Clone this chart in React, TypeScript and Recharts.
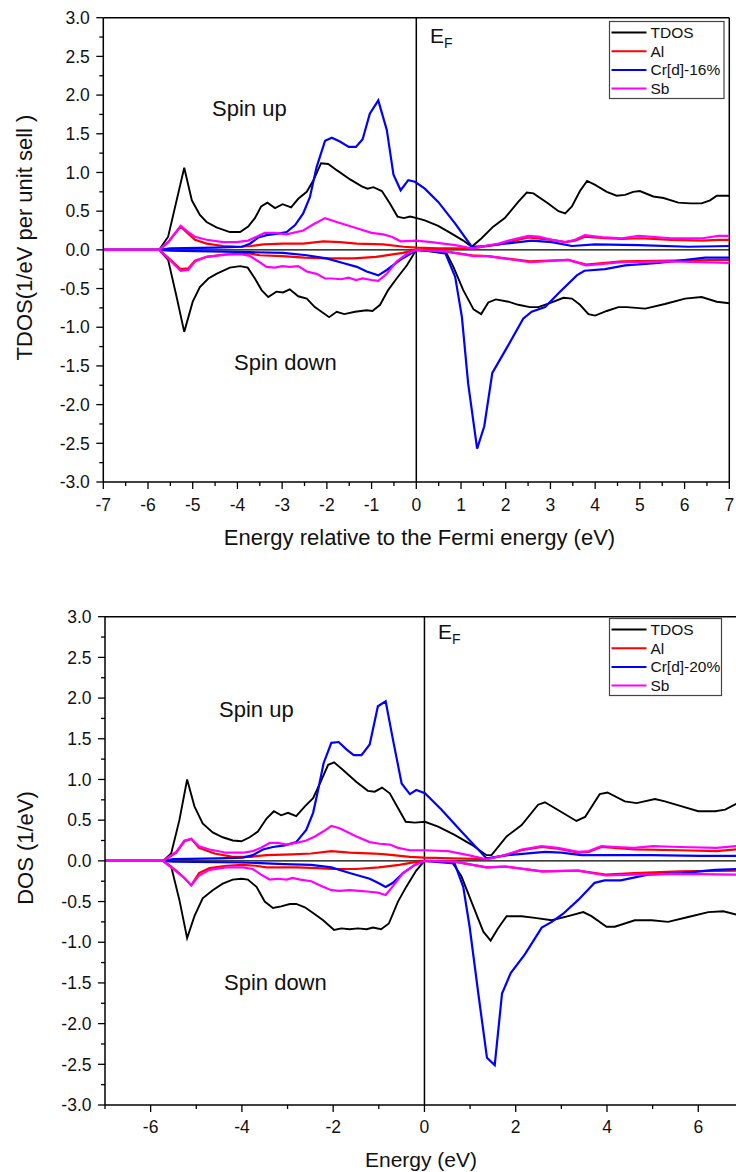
import React from 'react';
import { LineChart, Line, XAxis, YAxis, ReferenceLine } from 'recharts';

type P = [number, number][];

// ---------- axis ticks ----------
const topEnergyMajor = [-7, -6, -5, -4, -3, -2, -1, 0, 1, 2, 3, 4, 5, 6, 7];
const topEnergyMinor = [-6.5, -5.5, -4.5, -3.5, -2.5, -1.5, -0.5, 0.5, 1.5, 2.5, 3.5, 4.5, 5.5, 6.5];
const botEnergyMajor = [-6, -4, -2, 0, 2, 4, 6];
const botEnergyMinor = [-7, -5, -3, -1, 1, 3, 5, 7];
const dosMajor = [-3, -2.5, -2, -1.5, -1, -0.5, 0, 0.5, 1, 1.5, 2, 2.5, 3];
const dosMinor = [-2.75, -2.25, -1.75, -1.25, -0.75, -0.25, 0.25, 0.75, 1.25, 1.75, 2.25, 2.75];

// ---------- legend ----------
const topNames = ['TDOS', 'Al', 'Cr[d]-16%', 'Sb'];
const botNames = ['TDOS', 'Al', 'Cr[d]-20%', 'Sb'];
const colors = ['#000000', '#ff0000', '#0000ff', '#ff00ff'];

// ---------- top panel (Cr 16%) : [energy eV, DOS] ----------
const topTdosUp: P = [[-7,0],[-5.75,0],[-5.55,0.17],[-5.19,1.06],[-5.02,0.64],[-4.84,0.45],[-4.69,0.36],[-4.47,0.29],[-4.17,0.23],[-3.94,0.23],[-3.76,0.30],[-3.61,0.41],[-3.47,0.56],[-3.33,0.61],[-3.16,0.54],[-2.99,0.59],[-2.80,0.55],[-2.64,0.66],[-2.45,0.75],[-2.30,0.90],[-2.13,1.12],[-1.97,1.11],[-1.78,1.03],[-1.48,0.91],[-1.22,0.82],[-1.09,0.79],[-0.96,0.81],[-0.77,0.76],[-0.59,0.60],[-0.42,0.43],[-0.28,0.41],[-0.14,0.43],[0.01,0.41],[0.19,0.38],[0.49,0.31],[0.79,0.21],[1.05,0.12],[1.24,0.04],[1.46,0.15],[1.72,0.30],[1.98,0.41],[2.28,0.62],[2.47,0.74],[2.62,0.73],[2.95,0.60],[3.18,0.50],[3.33,0.47],[3.48,0.56],[3.66,0.76],[3.82,0.89],[4.00,0.84],[4.26,0.75],[4.48,0.70],[4.67,0.71],[4.85,0.75],[5.00,0.76],[5.30,0.69],[5.53,0.67],[5.86,0.61],[6.12,0.60],[6.38,0.60],[6.57,0.64],[6.72,0.70],[7.0,0.70]];
const topTdosDn: P = [[-7,0],[-5.75,0],[-5.55,-0.13],[-5.36,-0.61],[-5.19,-1.06],[-5.00,-0.67],[-4.84,-0.48],[-4.65,-0.37],[-4.47,-0.31],[-4.17,-0.23],[-3.94,-0.21],[-3.77,-0.23],[-3.61,-0.37],[-3.46,-0.52],[-3.31,-0.61],[-3.13,-0.54],[-2.98,-0.55],[-2.83,-0.51],[-2.64,-0.60],[-2.45,-0.63],[-2.27,-0.74],[-2.12,-0.80],[-1.95,-0.87],[-1.78,-0.80],[-1.61,-0.83],[-1.37,-0.80],[-1.11,-0.78],[-0.98,-0.79],[-0.81,-0.71],[-0.63,-0.52],[-0.44,-0.37],[-0.21,-0.20],[0,0],[0.3,-0.02],[0.68,-0.05],[0.83,-0.22],[1.05,-0.52],[1.28,-0.77],[1.45,-0.83],[1.61,-0.68],[1.78,-0.64],[2.06,-0.67],[2.28,-0.71],[2.54,-0.74],[2.73,-0.74],[3.03,-0.68],[3.29,-0.62],[3.48,-0.63],[3.66,-0.71],[3.85,-0.83],[4.00,-0.85],[4.26,-0.79],[4.52,-0.74],[4.71,-0.74],[5.12,-0.76],[5.56,-0.70],[6.01,-0.63],[6.38,-0.61],[6.72,-0.67],[7.0,-0.69]];
const topAlUp: P = [[-7,0],[-5.75,0],[-5.55,0.10],[-5.27,0.30],[-5.10,0.21],[-4.95,0.13],[-4.69,0.08],[-4.32,0.05],[-3.94,0.04],[-3.7,0.05],[-3.42,0.07],[-2.98,0.08],[-2.53,0.08],[-2.08,0.11],[-1.71,0.10],[-1.33,0.08],[-0.74,0.07],[-0.28,0.04],[0.0,0.03],[0.5,0.02],[1.24,0.02],[1.84,0.07],[2.51,0.16],[3.03,0.13],[3.33,0.10],[3.55,0.12],[3.77,0.17],[4.22,0.15],[4.60,0.14],[5.0,0.15],[5.71,0.13],[6.4,0.12],[6.76,0.13],[7.0,0.13]];
const topAlDn: P = [[-7,0],[-5.75,0],[-5.55,-0.10],[-5.27,-0.25],[-5.10,-0.24],[-4.95,-0.14],[-4.69,-0.09],[-4.3,-0.06],[-3.9,-0.05],[-3.7,-0.05],[-3.5,-0.07],[-3.0,-0.08],[-2.5,-0.10],[-2.0,-0.11],[-1.4,-0.11],[-0.9,-0.09],[-0.3,-0.04],[0,0],[0.64,-0.02],[1.24,-0.07],[1.6,-0.08],[2.54,-0.15],[3.4,-0.13],[3.8,-0.19],[4.6,-0.15],[5.7,-0.14],[7.0,-0.13]];
const topCrUp: P = [[-7,0],[-5.75,0],[-5.5,0.02],[-4.5,0.03],[-3.9,0.04],[-3.72,0.08],[-3.53,0.16],[-3.35,0.19],[-3.09,0.21],[-2.90,0.23],[-2.71,0.32],[-2.53,0.47],[-2.38,0.68],[-2.23,1.07],[-2.04,1.41],[-1.89,1.45],[-1.71,1.40],[-1.51,1.33],[-1.35,1.33],[-1.20,1.43],[-1.04,1.76],[-0.85,1.93],[-0.66,1.55],[-0.51,0.97],[-0.35,0.77],[-0.18,0.90],[-0.03,0.88],[0.19,0.79],[0.49,0.62],[0.87,0.34],[1.24,0.04],[1.54,0.05],[1.98,0.08],[2.58,0.12],[3.03,0.10],[3.48,0.05],[4.00,0.07],[4.97,0.06],[6.09,0.04],[7.0,0.05]];
const topCrDn: P = [[-7,0],[-5.75,0],[-5.5,-0.01],[-3.72,-0.03],[-2.98,-0.04],[-2.45,-0.07],[-2.01,-0.11],[-1.64,-0.17],[-1.33,-0.22],[-1.11,-0.28],[-0.85,-0.33],[-0.66,-0.26],[-0.36,-0.13],[-0.07,-0.03],[0,0],[0.64,-0.03],[0.87,-0.35],[1.02,-0.87],[1.16,-1.73],[1.36,-2.57],[1.52,-2.28],[1.70,-1.59],[2.02,-1.27],[2.39,-0.89],[2.58,-0.80],[2.88,-0.74],[3.18,-0.56],[3.59,-0.33],[3.76,-0.27],[4.22,-0.25],[4.67,-0.20],[5.41,-0.17],[6.46,-0.10],[7.0,-0.10]];
const topSbUp: P = [[-7,0],[-5.75,0],[-5.55,0.10],[-5.27,0.31],[-5.10,0.23],[-4.95,0.17],[-4.69,0.13],[-4.32,0.10],[-4.02,0.10],[-3.76,0.12],[-3.57,0.17],[-3.39,0.22],[-3.16,0.22],[-2.90,0.20],[-2.53,0.25],[-2.30,0.33],[-2.04,0.41],[-1.78,0.36],[-1.33,0.28],[-1.00,0.22],[-0.74,0.20],[-0.55,0.17],[-0.35,0.11],[0.0,0.12],[0.34,0.10],[0.87,0.06],[1.24,0.02],[1.84,0.08],[2.13,0.13],[2.51,0.18],[2.73,0.17],[3.03,0.13],[3.33,0.10],[3.55,0.13],[3.77,0.19],[4.22,0.16],[4.60,0.15],[4.97,0.18],[5.71,0.15],[6.4,0.15],[6.76,0.18],[7.0,0.18]];
const topSbDn: P = [[-7,0],[-5.75,0],[-5.55,-0.11],[-5.27,-0.27],[-5.10,-0.26],[-4.95,-0.15],[-4.69,-0.09],[-4.2,-0.06],[-3.9,-0.06],[-3.72,-0.08],[-3.53,-0.15],[-3.35,-0.22],[-3.16,-0.23],[-3.0,-0.21],[-2.83,-0.22],[-2.64,-0.21],[-2.45,-0.28],[-2.23,-0.31],[-2.04,-0.37],[-1.89,-0.37],[-1.68,-0.38],[-1.51,-0.36],[-1.35,-0.39],[-1.2,-0.37],[-1.0,-0.39],[-0.85,-0.40],[-0.66,-0.31],[-0.44,-0.15],[-0.21,-0.05],[0,0],[0.64,-0.02],[1.28,-0.08],[1.6,-0.08],[2.54,-0.16],[3.4,-0.13],[3.8,-0.20],[4.6,-0.16],[5.7,-0.15],[7.0,-0.17]];

// ---------- bottom panel (Cr 20%) ----------
const botTdosUp: P = [[-7,0],[-5.73,0],[-5.55,0.09],[-5.37,0.50],[-5.20,1.00],[-5.04,0.67],[-4.86,0.46],[-4.64,0.35],[-4.42,0.29],[-4.20,0.25],[-4.01,0.24],[-3.83,0.29],[-3.65,0.36],[-3.46,0.52],[-3.30,0.61],[-3.14,0.56],[-2.99,0.59],[-2.81,0.55],[-2.62,0.67],[-2.44,0.77],[-2.26,0.99],[-2.11,1.18],[-1.98,1.21],[-1.79,1.12],[-1.49,0.97],[-1.24,0.86],[-1.09,0.85],[-0.93,0.90],[-0.76,0.83],[-0.58,0.65],[-0.41,0.48],[-0.21,0.47],[0.01,0.48],[0.30,0.42],[0.66,0.32],[1.03,0.20],[1.36,0.07],[1.47,0.07],[1.80,0.30],[2.13,0.44],[2.49,0.69],[2.64,0.72],[3.00,0.60],[3.33,0.49],[3.52,0.54],[3.84,0.82],[4.01,0.84],[4.39,0.73],[4.65,0.71],[5.05,0.76],[5.27,0.73],[5.64,0.67],[6.00,0.61],[6.37,0.61],[6.59,0.63],[6.83,0.70],[7.0,0.73]];
const botTdosDn: P = [[-7,0],[-5.73,0],[-5.55,-0.07],[-5.37,-0.48],[-5.20,-0.95],[-5.04,-0.68],[-4.86,-0.46],[-4.64,-0.36],[-4.42,-0.28],[-4.20,-0.23],[-4.01,-0.22],[-3.87,-0.23],[-3.68,-0.32],[-3.50,-0.50],[-3.32,-0.58],[-3.14,-0.56],[-2.95,-0.53],[-2.81,-0.53],[-2.62,-0.57],[-2.44,-0.64],[-2.22,-0.73],[-1.98,-0.85],[-1.82,-0.83],[-1.64,-0.84],[-1.46,-0.83],[-1.27,-0.84],[-1.13,-0.82],[-0.95,-0.84],[-0.78,-0.77],[-0.58,-0.50],[-0.40,-0.32],[-0.18,-0.12],[0,0],[0.60,-0.01],[0.81,-0.19],[1.07,-0.56],[1.29,-0.87],[1.45,-0.98],[1.61,-0.83],[1.80,-0.68],[2.13,-0.68],[2.42,-0.70],[2.79,-0.73],[3.15,-0.68],[3.48,-0.63],[3.66,-0.68],[3.99,-0.81],[4.17,-0.81],[4.61,-0.73],[4.98,-0.73],[5.34,-0.75],[5.78,-0.69],[6.22,-0.63],[6.55,-0.62],[6.83,-0.66],[7.0,-0.68]];
const botAlUp: P = [[-7,0],[-5.73,0],[-5.44,0.10],[-5.26,0.24],[-5.11,0.27],[-4.94,0.16],[-4.6,0.09],[-4.2,0.05],[-3.8,0.05],[-3.46,0.07],[-2.9,0.08],[-2.48,0.09],[-2.04,0.12],[-1.64,0.10],[-1.1,0.09],[-0.85,0.08],[-0.32,0.05],[0,0.04],[0.6,0.03],[1.36,0.02],[1.77,0.07],[2.13,0.13],[2.57,0.17],[2.92,0.15],[3.37,0.10],[3.6,0.11],[3.88,0.17],[4.6,0.14],[5.6,0.13],[6.4,0.12],[6.83,0.14],[7.0,0.14]];
const botAlDn: P = [[-7,0],[-5.73,0],[-5.44,-0.12],[-5.26,-0.21],[-5.11,-0.30],[-4.94,-0.15],[-4.71,-0.09],[-4.34,-0.06],[-3.98,-0.05],[-3.7,-0.06],[-3.46,-0.08],[-2.8,-0.08],[-2.35,-0.09],[-2.04,-0.10],[-1.5,-0.10],[-1.0,-0.08],[-0.55,-0.05],[-0.15,-0.01],[0,0],[0.66,-0.01],[1.36,-0.08],[1.77,-0.07],[2.57,-0.13],[3.37,-0.12],[3.97,-0.17],[4.6,-0.15],[5.6,-0.13],[7.0,-0.12]];
const botCrUp: P = [[-7,0],[-5.73,0],[-5.5,0.02],[-4.5,0.03],[-3.98,0.04],[-3.76,0.07],[-3.54,0.14],[-3.32,0.17],[-3.06,0.19],[-2.81,0.23],[-2.59,0.38],[-2.44,0.59],[-2.33,0.87],[-2.21,1.20],[-2.04,1.45],[-1.88,1.46],[-1.71,1.37],[-1.55,1.30],[-1.38,1.30],[-1.20,1.43],[-1.02,1.90],[-0.85,1.96],[-0.69,1.49],[-0.50,0.95],[-0.32,0.82],[-0.18,0.87],[0.01,0.83],[0.37,0.63],[0.81,0.36],[1.36,0.03],[1.83,0.07],[2.64,0.11],[3.00,0.10],[3.44,0.07],[3.97,0.07],[4.98,0.07],[6.05,0.06],[7.0,0.06]];
const botCrDn: P = [[-7,0],[-5.73,0],[-5.5,-0.01],[-4.0,-0.02],[-3.07,-0.04],[-2.48,-0.05],[-2.04,-0.08],[-1.64,-0.15],[-1.20,-0.22],[-1.02,-0.27],[-0.85,-0.32],[-0.69,-0.27],[-0.47,-0.15],[-0.21,-0.05],[0,0],[0.66,-0.03],[0.85,-0.32],[0.99,-0.81],[1.18,-1.63],[1.37,-2.42],[1.54,-2.51],[1.70,-1.63],[1.89,-1.38],[2.20,-1.15],[2.57,-0.82],[2.79,-0.75],[3.04,-0.65],[3.37,-0.48],[3.73,-0.27],[3.95,-0.24],[4.3,-0.24],[4.90,-0.17],[5.64,-0.15],[6.37,-0.11],[7.0,-0.10]];
const botSbUp: P = [[-7,0],[-5.73,0],[-5.44,0.11],[-5.26,0.25],[-5.11,0.27],[-4.94,0.18],[-4.71,0.14],[-4.34,0.10],[-3.98,0.10],[-3.76,0.12],[-3.58,0.16],[-3.39,0.22],[-3.21,0.22],[-3.02,0.20],[-2.81,0.22],[-2.59,0.25],[-2.40,0.30],[-2.22,0.36],[-2.04,0.43],[-1.86,0.40],[-1.49,0.30],[-1.20,0.23],[-0.98,0.21],[-0.76,0.20],[-0.58,0.16],[-0.32,0.13],[0.01,0.13],[0.52,0.12],[0.96,0.07],[1.36,0.02],[1.77,0.07],[2.13,0.14],[2.57,0.18],[2.92,0.16],[3.37,0.11],[3.6,0.12],[3.88,0.18],[4.2,0.17],[4.6,0.16],[5.0,0.18],[5.6,0.17],[6.4,0.16],[6.83,0.18],[7.0,0.18]];
const botSbDn: P = [[-7,0],[-5.73,0],[-5.44,-0.13],[-5.26,-0.21],[-5.11,-0.30],[-4.94,-0.18],[-4.71,-0.11],[-4.34,-0.08],[-3.98,-0.08],[-3.76,-0.10],[-3.58,-0.17],[-3.39,-0.23],[-3.21,-0.22],[-3.02,-0.23],[-2.89,-0.21],[-2.72,-0.23],[-2.48,-0.25],[-2.26,-0.31],[-2.04,-0.36],[-1.86,-0.37],[-1.64,-0.36],[-1.42,-0.37],[-1.2,-0.38],[-1.02,-0.39],[-0.85,-0.42],[-0.69,-0.31],[-0.47,-0.15],[-0.21,-0.05],[0,0],[0.66,-0.01],[1.36,-0.08],[1.77,-0.07],[2.57,-0.13],[3.37,-0.12],[3.97,-0.18],[4.6,-0.17],[5.6,-0.16],[7.0,-0.17]];

const FONT = '"Liberation Sans", Arial, sans-serif';
const toData = (p: P) => p.map(([e, v]) => ({ e, v }));
const has = (arr: number[], v: number) => arr.some((a) => Math.abs(a - v) < 1e-6);

const makeXTick = (major: number[], dy: number) => (props: any) => {
  const { x, y, payload } = props;
  const isMajor = has(major, payload.value);
  return (
    <g>
      <line x1={x} x2={x} y1={y} y2={y + (isMajor ? 7 : 4)} stroke="#000" strokeWidth={1.3} />
      {isMajor && (
        <text x={x} y={y + dy} textAnchor="middle" fontSize={17.5} fontFamily={FONT} fill="#111">
          {String(payload.value)}
        </text>
      )}
    </g>
  );
};

const YTick = (props: any) => {
  const { x, y, payload } = props;
  const isMajor = has(dosMajor, payload.value);
  return (
    <g>
      <line x1={x - (isMajor ? 7 : 4)} x2={x} y1={y} y2={y} stroke="#000" strokeWidth={1.3} />
      {isMajor && (
        <text x={x - 13.5} y={y + 6.2} textAnchor="end" fontSize={17.5} fontFamily={FONT} fill="#111">
          {Number(payload.value).toFixed(1)}
        </text>
      )}
    </g>
  );
};

type Series = { up: P; dn: P };

function Panel(props: {
  width: number; height: number; margin: any; series: Series[];
  xMajor: number[]; xMinor: number[]; frameRight: boolean; labelDy: number;
}) {
  const { width, height, margin, series, xMajor, xMinor, frameRight, labelDy } = props;
  const XTick = makeXTick(xMajor, labelDy);
  return (
    <LineChart width={width} height={height} margin={margin}>
      <XAxis type="number" dataKey="e" domain={[-7, 7]} ticks={[...xMajor, ...xMinor]} interval={0}
        allowDataOverflow tickSize={0} tickMargin={0} tickLine={false} tick={XTick} height={40}
        axisLine={{ stroke: '#000', strokeWidth: 1.5 }} />
      <YAxis type="number" domain={[-3, 3]} ticks={[...dosMajor, ...dosMinor]} interval={0}
        allowDataOverflow tickSize={0} tickMargin={0} tickLine={false} tick={YTick} width={60}
        axisLine={{ stroke: '#000', strokeWidth: 1.5 }} />
      <ReferenceLine y={3} stroke="#000" strokeWidth={1.5} />
      {frameRight && <ReferenceLine x={7} stroke="#000" strokeWidth={1.5} />}
      <ReferenceLine y={0} stroke="#000" strokeWidth={1.2} />
      <ReferenceLine x={0} stroke="#000" strokeWidth={1.5} />
      {series.map((s, i) => [
        <Line key={`u${i}`} data={toData(s.up)} dataKey="v" type="linear" stroke={colors[i]}
          strokeWidth={i === 0 ? 1.9 : 2.2} dot={false} activeDot={false} isAnimationActive={false} />,
        <Line key={`d${i}`} data={toData(s.dn)} dataKey="v" type="linear" stroke={colors[i]}
          strokeWidth={i === 0 ? 1.9 : 2.2} dot={false} activeDot={false} isAnimationActive={false} />,
      ])}
    </LineChart>
  );
}

function LegendBox({ x, y, w, names }: { x: number; y: number; w: number; names: string[] }) {
  const rowH = 18.7;
  return (
    <g>
      <rect x={x} y={y} width={w} height={77} fill="#fff" stroke="#444" strokeWidth={1.2} />
      {names.map((n, i) => {
        const cy = y + 11 + i * rowH;
        return (
          <g key={n}>
            <line x1={x + 2} x2={x + 37} y1={cy} y2={cy} stroke={colors[i]} strokeWidth={2} />
            <text x={x + 41} y={cy + 5.5} fontSize={15.5} fontFamily={FONT} fill="#111">{n}</text>
          </g>
        );
      })}
    </g>
  );
}

export default function App() {
  const topSeries: Series[] = [
    { up: topTdosUp, dn: topTdosDn },
    { up: topAlUp, dn: topAlDn },
    { up: topCrUp, dn: topCrDn },
    { up: topSbUp, dn: topSbDn },
  ];
  const botSeries: Series[] = [
    { up: botTdosUp, dn: botTdosDn },
    { up: botAlUp, dn: botAlDn },
    { up: botCrUp, dn: botCrDn },
    { up: botSbUp, dn: botSbDn },
  ];
  return (
    <>
      <style>{'html,body{margin:0;padding:0;overflow:hidden;background:#fff}'}</style>
      <div style={{ position: 'relative', width: 736, height: 1172, overflow: 'hidden', background: '#fff' }}>
        <div style={{ position: 'absolute', left: 0, top: 0 }}>
          <Panel width={736} height={560} margin={{ top: 17.7, right: 6.7, left: 43.3, bottom: 38 }}
            series={topSeries} xMajor={topEnergyMajor} xMinor={topEnergyMinor} frameRight={true} labelDy={28.5} />
        </div>
        <div style={{ position: 'absolute', left: 0, top: 580 }}>
          <Panel width={760} height={592} margin={{ top: 36.7, right: 16.1, left: 45, bottom: 27 }}
            series={botSeries} xMajor={botEnergyMajor} xMinor={botEnergyMinor} frameRight={false} labelDy={27.5} />
        </div>
        <svg width={736} height={1172} style={{ position: 'absolute', left: 0, top: 0, pointerEvents: 'none' }}>
          <g fontFamily={FONT} fill="#111">
            <text x={212} y={116} fontSize={22}>Spin up</text>
            <text x={234} y={370} fontSize={22}>Spin down</text>
            <text x={430} y={43} fontSize={21}>E<tspan fontSize={14} dy={5}>F</tspan></text>
            <text transform="translate(31.5,237.5) rotate(-90)" textAnchor="middle" fontSize={22}>TDOS(1/eV per unit sell )</text>
            <text x={419.5} y={545} textAnchor="middle" fontSize={22}>Energy relative to the Fermi energy (eV)</text>

            <text x={219} y={717} fontSize={22}>Spin up</text>
            <text x={224} y={990} fontSize={22}>Spin down</text>
            <text x={438} y={639} fontSize={21}>E<tspan fontSize={14} dy={5}>F</tspan></text>
            <text transform="translate(33,848) rotate(-90)" textAnchor="middle" fontSize={22}>DOS (1/eV)</text>
            <text x={421} y={1167} textAnchor="middle" fontSize={21}>Energy (eV)</text>
          </g>
          <LegendBox x={609.5} y={21.5} w={114.5} names={topNames} />
          <LegendBox x={609.5} y={618.5} w={112} names={botNames} />
        </svg>
      </div>
    </>
  );
}
